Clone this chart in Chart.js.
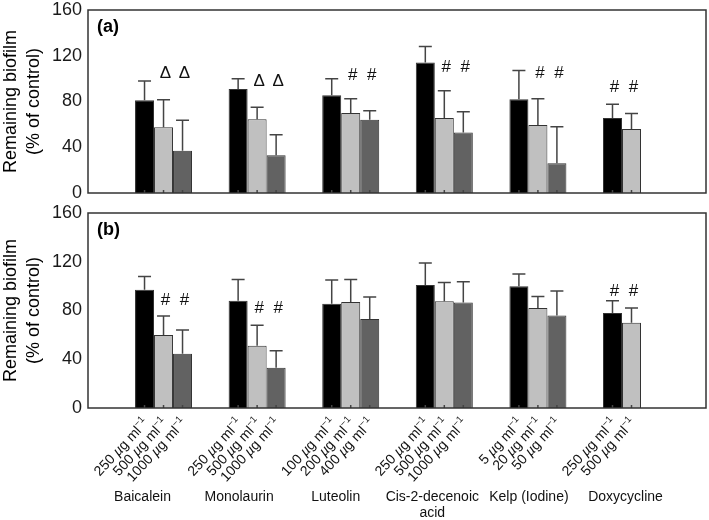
<!DOCTYPE html>
<html>
<head>
<meta charset="utf-8">
<title>Remaining biofilm</title>
<script src="https://cdn.jsdelivr.net/npm/chart.js@4.4.0/dist/chart.umd.min.js"></script>
<style>
  body { margin: 0; background: #fff; }
  #wrap { position: relative; width: 709px; height: 520px; }
  canvas { position: absolute; left: 0; }
  #chartA { top: 0; }
  #chartB { top: 203px; }
</style>
</head>
<body>
<div id="wrap">
  <canvas id="chartA" width="709" height="203"></canvas>
  <canvas id="chartB" width="709" height="317"></canvas>
</div>
<script>
// Categories and dose labels
const groupLines = [['Baicalein'], ['Monolaurin'], ['Luteolin'], ['Cis-2-decenoic', 'acid'], ['Kelp (Iodine)'], ['Doxycycline']];
const doses = [['250', '500', '1000'], ['250', '500', '1000'], ['100', '200', '400'], ['250', '500', '1000'], ['5', '20', '50'], ['250', '500']];
const yTicks = [0, 40, 80, 120, 160];

// Panel (a): means and SD (upper error) for low / mid / high dose
const lowA = [81, 91, 85.5, 114, 82, 65.5];
const midA = [57.5, 64.5, 70, 65.5, 59.5, 56];
const highA = [37, 33, 64, 53, 26, null];
const lowSdA = [17, 9, 14.5, 14, 25, 12];
const midSdA = [24, 10.5, 12.5, 24, 23, 13.5];
const highSdA = [26.5, 18, 8, 18, 32, null];
const marksA = [['', 'Δ', 'Δ'], ['', 'Δ', 'Δ'], ['', '#', '#'], ['', '#', '#'], ['', '#', '#'], ['#', '#', '']];
const markYA = [105, 98, 103, 110, 105, 92];

// Panel (b)
const lowB = [97, 88, 85.5, 101, 100, 78];
const midB = [60, 51, 87, 87.5, 82, 70];
const highB = [44.5, 33, 73, 86.5, 76, null];
const lowSdB = [11, 17.5, 19.5, 18, 10, 10];
const midSdB = [15.5, 17, 18.5, 15.5, 9.5, 12];
const highSdB = [19.5, 14, 18, 17, 20, null];
const marksB = [['', '#', '#'], ['', '#', '#'], ['', '', ''], ['', '', ''], ['', '', ''], ['#', '#', '']];
const markYB = [88, 82, 0, 0, 0, 96];

const FONT = '"Liberation Sans", Arial, Helvetica, sans-serif';
const barColors = ['#000000', '#c0c0c0', '#626262'];

function makeDatasets(series, sds) {
    return series.map((vals, di) => ({
        data: vals.map((v, i) => ({ x: i, y: v })),
        sd: sds[di],
        backgroundColor: barColors[di],
        borderColor: '#333333',
        borderWidth: 1,
        categoryPercentage: 0.609,
        barPercentage: 1.0
    }));
}

// draw "250 µg ml-1" with italic mu and superscript, right end at (0,0)
function drawDose(ctx, num) {
    const parts = [
        [num + ' ', '14px ' + FONT, 0],
        ['\u00b5', 'italic 14px ' + FONT, 0],
        ['g ml', '14px ' + FONT, 0],
        ['\u22121', '9.5px ' + FONT, -5]
    ];
    let total = 0;
    parts.forEach(p => { ctx.font = p[1]; p.w = ctx.measureText(p[0]).width; total += p.w; });
    let x = -total;
    parts.forEach(p => {
        ctx.font = p[1];
        ctx.fillText(p[0], x, p[2]);
        x += p.w;
    });
}

// Error bars, frame, labels drawn around the bars
const decorPlugin = {
    id: 'decor',
    afterDatasetsDraw(chart, args, opts) {
        const ctx = chart.ctx;
        const y = chart.scales.y;
        const a = chart.chartArea;
        ctx.save();
        ctx.strokeStyle = '#444';
        ctx.lineWidth = 1.5;
        chart.data.datasets.forEach((ds, di) => {
            const meta = chart.getDatasetMeta(di);
            meta.data.forEach((bar, i) => {
                const v = ds.data[i].y;
                if (v == null) return;
                const yTop = y.getPixelForValue(v + ds.sd[i]);
                const yBar = y.getPixelForValue(v);
                ctx.beginPath();
                ctx.moveTo(bar.x, yBar);
                ctx.lineTo(bar.x, yTop);
                ctx.moveTo(bar.x - 6.5, yTop);
                ctx.lineTo(bar.x + 6.5, yTop);
                ctx.stroke();
                // small inner tick on the x axis
                ctx.beginPath();
                ctx.moveTo(bar.x, a.bottom);
                ctx.lineTo(bar.x, a.bottom - 3);
                ctx.stroke();
            });
        });

        // significance marks
        ctx.fillStyle = '#111';
        ctx.font = '17px ' + FONT;
        ctx.textAlign = 'center';
        ctx.textBaseline = 'middle';
        opts.marks.forEach((row, i) => {
            row.forEach((m, di) => {
                if (!m) return;
                const bar = chart.getDatasetMeta(di).data[i];
                ctx.fillText(m, bar.x + 2, y.getPixelForValue(opts.markY[i]));
            });
        });

        // frame
        ctx.strokeStyle = '#333';
        ctx.lineWidth = 1.5;
        ctx.strokeRect(a.left, a.top, a.right - a.left, a.bottom - a.top);

        // panel label
        ctx.font = 'bold 18px ' + FONT;
        ctx.textAlign = 'left';
        ctx.fillStyle = '#000';
        ctx.fillText(opts.panel, a.left + 9, a.top + 17);

        // y title
        ctx.font = '18px ' + FONT;
        ctx.textAlign = 'center';
        const midY = (a.top + a.bottom) / 2;
        [['Remaining biofilm', 11], ['(% of control)', 34]].forEach(([t, x]) => {
            ctx.save();
            ctx.translate(x, midY);
            ctx.rotate(-Math.PI / 2);
            ctx.fillText(t, 0, 0);
            ctx.restore();
        });

        if (opts.xLabels) {
            // rotated dose labels
            ctx.fillStyle = '#111';
            chart.data.datasets.forEach((ds, di) => {
                const meta = chart.getDatasetMeta(di);
                meta.data.forEach((bar, i) => {
                    if (ds.data[i].y == null) return;
                    ctx.save();
                    ctx.translate(bar.x + 2, a.bottom + 13);
                    ctx.rotate(-47 * Math.PI / 180);
                    ctx.textAlign = 'left';
                    ctx.textBaseline = 'middle';
                    drawDose(ctx, doses[i][di]);
                    ctx.restore();
                });
            });
            // group names
            const x = chart.scales.x;
            ctx.font = '14px ' + FONT;
            ctx.textAlign = 'center';
            ctx.textBaseline = 'middle';
            groupLines.forEach((lines, i) => {
                const cx = x.getPixelForValue(i) - 21 + 3 * i;
                lines.forEach((t, k) => ctx.fillText(t, cx, a.bottom + 89 + k * 16));
            });
        }
        ctx.restore();
    }
};

function buildChart(id, series, sds, marks, markY, panel, padBottom, xLabels) {
    return new Chart(document.getElementById(id), {
        type: 'bar',
        data: { datasets: makeDatasets(series, sds) },
        options: {
            responsive: false,
            animation: false,
            events: [],
            layout: { padding: { top: 10, bottom: padBottom, left: 0, right: 3 } },
            plugins: {
                legend: { display: false },
                tooltip: { enabled: false },
                decor: { marks: marks, markY: markY, panel: panel, xLabels: xLabels }
            },
            scales: {
                x: {
                    type: 'linear',
                    min: -0.807,
                    max: 5.796,
                    offset: false,
                    display: false,
                    afterBuildTicks: s => { s.ticks = groupLines.map((g, i) => ({ value: i })); }
                },
                y: {
                    min: 0,
                    max: 160,
                    grid: { display: false, drawTicks: false },
                    border: { display: false },
                    afterBuildTicks: s => { s.ticks = yTicks.map(v => ({ value: v })); },
                    afterFit: s => { s.width = 88; s.paddingTop = 0; s.paddingBottom = 0; },
                    ticks: {
                        padding: 6,
                        color: '#1a1a1a',
                        font: { family: FONT, size: 18 }
                    }
                }
            }
        },
        plugins: [decorPlugin]
    });
}

buildChart('chartA', [lowA, midA, highA], [lowSdA, midSdA, highSdA], marksA, markYA, '(a)', 10, false);
buildChart('chartB', [lowB, midB, highB], [lowSdB, midSdB, highSdB], marksB, markYB, '(b)', 112, true);
</script>
</body>
</html>
